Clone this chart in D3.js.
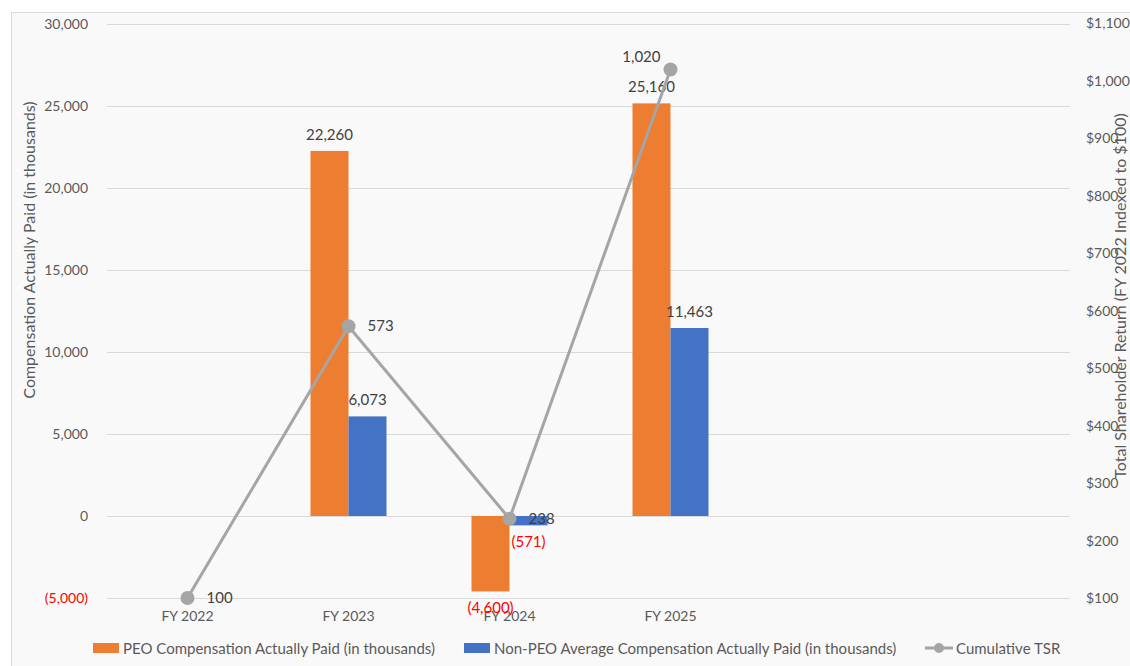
<!DOCTYPE html>
<html>
<head>
<meta charset="utf-8">
<script src="https://cdn.jsdelivr.net/npm/d3@7/dist/d3.min.js"></script>
<style>
  html, body { margin: 0; padding: 0; background: #ffffff; }
  svg { display: block; font-family: Lato, "Open Sans", sans-serif; }
</style>
</head>
<body>
<svg id="chart" width="1130" height="666"></svg>
<script>
// Fiscal years (two trailing empty slots keep the plot's spacing)
const categories = ["FY 2022", "FY 2023", "FY 2024", "FY 2025", "", ""];
const peoCap = [0, 22260, -4600, 25160];          // PEO CAP, $ thousands
const nonPeoCap = [0, 6073, -571, 11463];        // Non-PEO average CAP, $ thousands
const tsr = [100, 573, 238, 1020];               // cumulative TSR, FY 2022 = $100
const leftTicks = [-5000, 0, 5000, 10000, 15000, 20000, 25000, 30000];
const rightTicks = [100, 200, 300, 400, 500, 600, 700, 800, 900, 1000, 1100];
const seriesNames = [
  "PEO Compensation Actually Paid (in thousands)",
  "Non-PEO Average Compensation Actually Paid (in thousands)",
  "Cumulative TSR"
];
const leftTitle = "Compensation Actually Paid (in thousands)";
const rightTitle = "Total Shareholder Return (FY 2022 Indexed to $100)";

const C = { peo: "#ED7D31", non: "#4472C4", tsr: "#A5A5A5", grid: "#D9D9D9",
            tick: "#595959", label: "#404040", neg: "#FF0000" };

const svg = d3.select("#chart");

// panel background and frame
svg.append("rect").attr("x", 11.5).attr("y", 12.5).attr("width", 1130).attr("height", 670)
  .attr("fill", "#F9F9F9").attr("stroke", "#D9D9D9");

const plot = { left: 107, right: 1073, top: 24, bottom: 598 };

const x = d3.scaleBand().domain(d3.range(categories.length)).range([plot.left, plot.right]);
const yL = d3.scaleLinear().domain([-5000, 30000]).range([plot.bottom, plot.top]);
const yR = d3.scaleLinear().domain([100, 1100]).range([plot.bottom, plot.top - 0.5]);
const barW = 38;
const inner = d3.scaleBand().domain(["peo", "non"]).range([-barW, barW]);

const fmt = d3.format(",");
const fmtAcct = v => v < 0 ? "(" + fmt(-v) + ")" : fmt(v);

// gridlines
svg.append("g").selectAll("line").data(leftTicks).join("line")
  .attr("x1", plot.left).attr("x2", plot.right - 3)
  .attr("y1", d => Math.round(yL(d)) + 0.5).attr("y2", d => Math.round(yL(d)) + 0.5)
  .attr("stroke", C.grid).attr("stroke-width", 1);

// left axis
const axL = svg.append("g").attr("transform", `translate(${plot.left},0)`)
  .call(d3.axisLeft(yL).tickValues(leftTicks).tickFormat(fmtAcct).tickSize(0).tickPadding(19));
axL.select(".domain").remove();
axL.selectAll("text").attr("font-size", 14).attr("font-family", "Lato, sans-serif")
  .attr("fill", d => d < 0 ? C.neg : C.tick);

// right axis
const axR = svg.append("g").attr("transform", `translate(${plot.right},0)`)
  .call(d3.axisRight(yR).tickValues(rightTicks).tickFormat(d => "$" + fmt(d)).tickSize(0).tickPadding(13));
axR.select(".domain").remove();
axR.selectAll("text").attr("font-size", 14).attr("font-family", "Lato, sans-serif").attr("fill", C.tick);

// category axis
const axX = svg.append("g").attr("transform", `translate(0,${plot.bottom})`)
  .call(d3.axisBottom(x).tickFormat(i => categories[i]).tickSize(0).tickPadding(13));
axX.select(".domain").remove();
axX.selectAll("text").attr("font-size", 14).attr("font-family", "Lato, sans-serif").attr("fill", C.tick);

// axis titles
svg.append("text").attr("transform", `translate(35,250) rotate(-90)`)
  .attr("text-anchor", "middle").attr("font-size", 16).attr("fill", C.tick).text(leftTitle);
svg.append("text").attr("transform", `translate(1126,296) rotate(-90)`)
  .attr("text-anchor", "middle").attr("font-size", 16).attr("fill", C.tick).text(rightTitle);

// bars
const rows = peoCap.map((v, i) => [
  { key: "peo", i, v, color: C.peo },
  { key: "non", i, v: nonPeoCap[i], color: C.non }
]).flat().filter(d => d.v !== 0);

const cx = i => x(i) + x.bandwidth() / 2;

svg.append("g").selectAll("rect").data(rows).join("rect")
  .attr("x", d => cx(d.i) + inner(d.key))
  .attr("width", inner.bandwidth())
  .attr("y", d => yL(Math.max(0, d.v)))
  .attr("height", d => Math.abs(yL(d.v) - yL(0)))
  .attr("fill", d => d.color);

// bar value labels
svg.append("g").selectAll("text").data(rows).join("text")
  .attr("x", d => cx(d.i) + inner(d.key) + inner.bandwidth() / 2)
  .attr("y", d => d.v >= 0 ? yL(d.v) - 11 : yL(d.v) + 22)
  .attr("text-anchor", "middle").attr("font-size", 15)
  .attr("fill", d => d.v < 0 ? C.neg : C.label)
  .text(d => fmtAcct(d.v));

// TSR line
const pts = tsr.map((v, i) => ({ i, v }));
svg.append("path").datum(pts)
  .attr("d", d3.line().x(d => cx(d.i)).y(d => yR(d.v)))
  .attr("fill", "none").attr("stroke", C.tsr).attr("stroke-width", 3).attr("stroke-linejoin", "round");
svg.append("g").selectAll("circle").data(pts).join("circle")
  .attr("cx", d => cx(d.i)).attr("cy", d => yR(d.v)).attr("r", 7).attr("fill", C.tsr);

// TSR labels: to the right of each point, above-left at the peak
const peak = d3.maxIndex(tsr);
svg.append("g").selectAll("text").data(pts).join("text")
  .attr("x", d => d.i === peak ? cx(d.i) - 10 : cx(d.i) + 19)
  .attr("y", d => d.i === peak ? yR(d.v) - 7 : yR(d.v) + 5)
  .attr("text-anchor", d => d.i === peak ? "end" : "start")
  .attr("font-size", 15).attr("fill", C.label)
  .text(d => fmt(d.v));

// legend
const lg = svg.append("g").attr("font-size", 15).attr("fill", C.tick);
const legendX = [93, 464, 925];
[C.peo, C.non].forEach((c, k) => {
  lg.append("rect").attr("x", legendX[k]).attr("y", 643).attr("width", 26).attr("height", 10).attr("fill", c);
  lg.append("text").attr("x", legendX[k] + 30).attr("y", 653.5).text(seriesNames[k]);
});
lg.append("line").attr("x1", legendX[2]).attr("x2", legendX[2] + 28).attr("y1", 648).attr("y2", 648)
  .attr("stroke", C.tsr).attr("stroke-width", 3);
lg.append("circle").attr("cx", legendX[2] + 14).attr("cy", 648).attr("r", 5).attr("fill", C.tsr);
lg.append("text").attr("x", legendX[2] + 31).attr("y", 653.5).text(seriesNames[2]);
</script>
</body>
</html>
